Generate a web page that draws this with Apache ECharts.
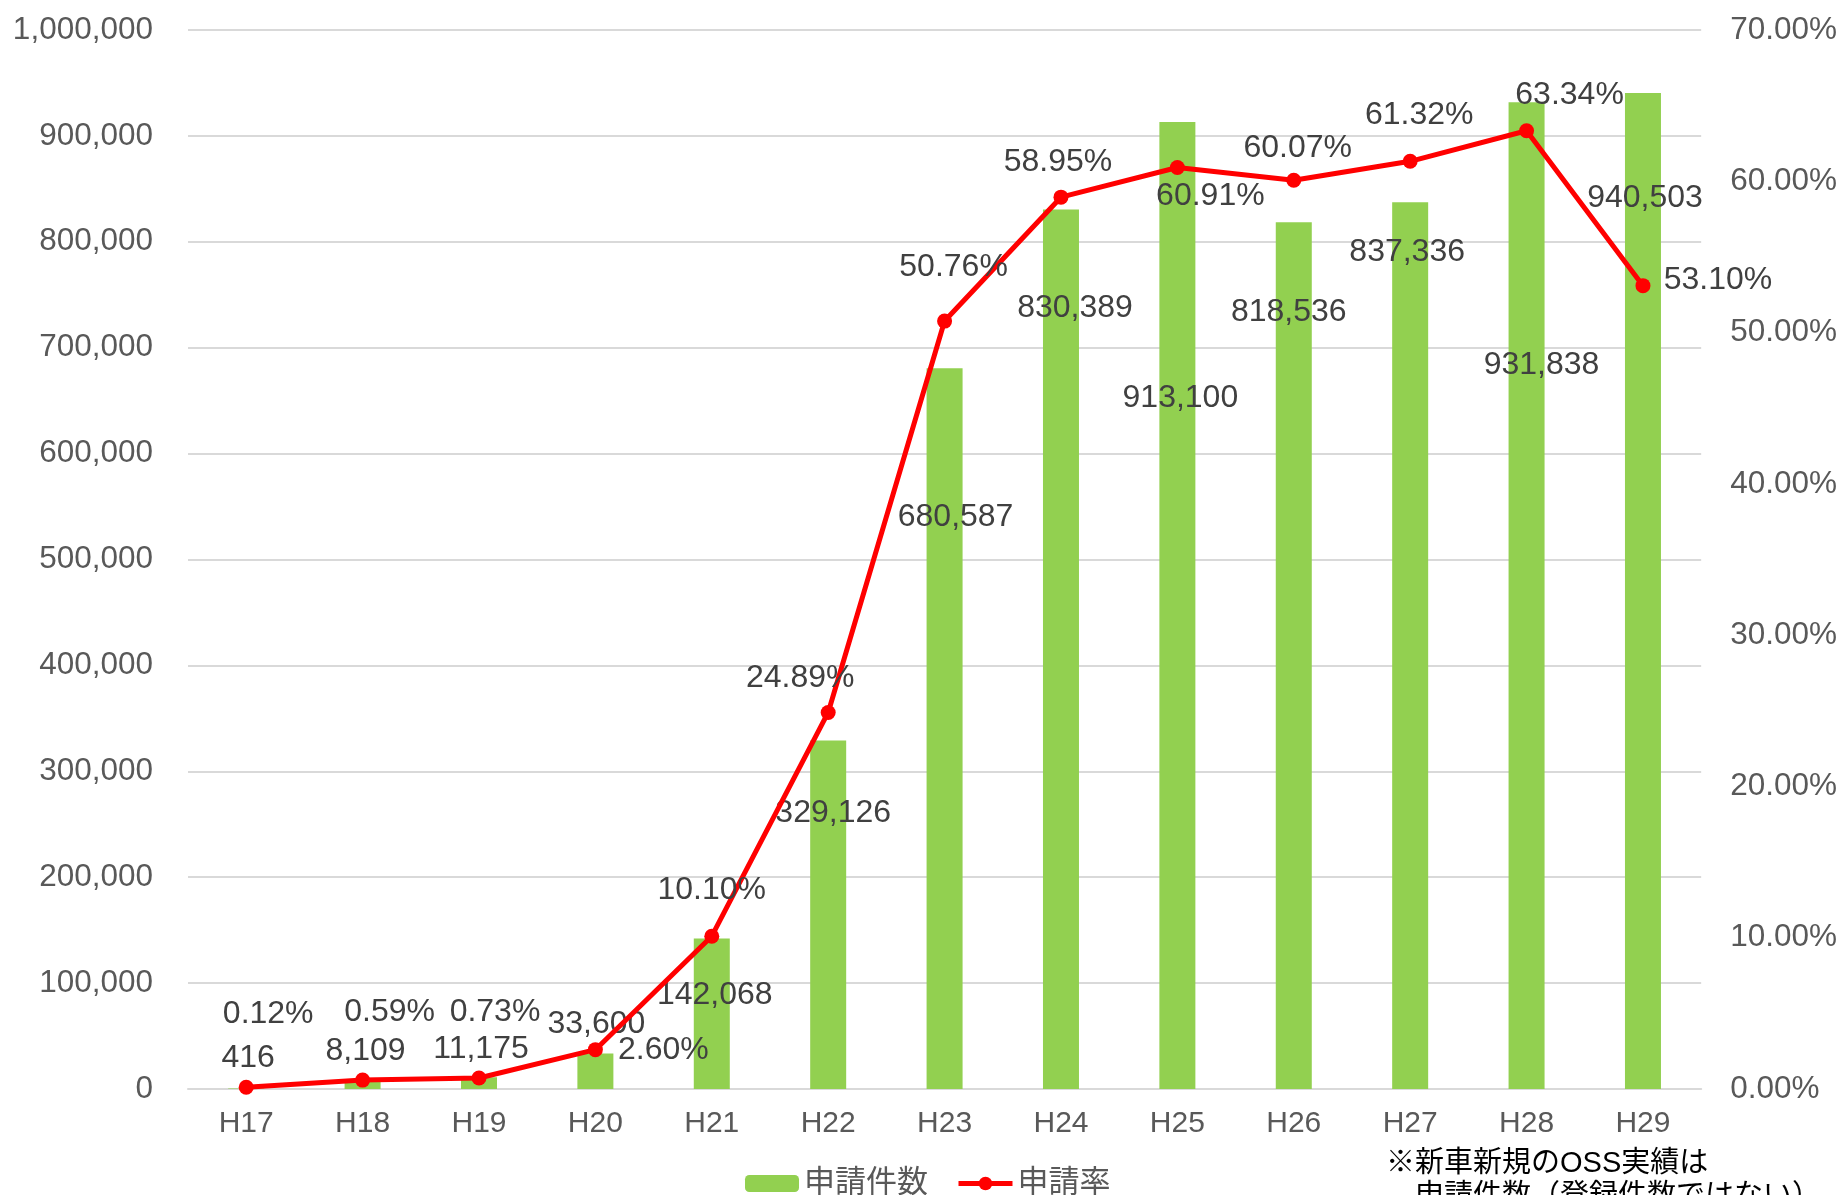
<!DOCTYPE html>
<html><head><meta charset="utf-8">
<script src="https://cdn.jsdelivr.net/npm/echarts@6/dist/echarts.min.js"></script>
<style>html,body{margin:0;padding:0;background:#fff}#c{width:1840px;height:1195px}</style>
</head><body><div id="c"></div>
<script>
const categories = ['H17','H18','H19','H20','H21','H22','H23','H24','H25','H26','H27','H28','H29'];
const applications = [416, 8109, 11175, 33600, 142068, 329126, 680587, 830389, 913100, 818536, 837336, 931838, 940503];
const rates = [0.12, 0.59, 0.73, 2.60, 10.10, 24.89, 50.76, 58.95, 60.91, 60.07, 61.32, 63.34, 53.10];
const seriesNames = ['申請件数', '申請率'];
const noteLines = ['※新車新規のOSS実績は', '　申請件数（登録件数ではない）'];

// label placement (style only), [dx, dy] from the mark
const barLabelOffsets = [[2,-30],[3,-29],[2,-28],[1,-29],[3,57],[5,73],[11,149],[14,99],[3,276],[-5,90],[-3,50],[15,263],[2,105]];
const lineLabelOffsets = [[22,-73],[27,-68],[16,-66],[68,1],[0,-46],[-28,-34],[9,-54],[-3,-35],[33,29],[4,-32],[9,-46],[43,-36],[75,-6]];

const FONT = '"Liberation Sans", Arial, "Noto Sans CJK JP", sans-serif';
const fmtInt = v => v.toLocaleString('en-US');

const chart = echarts.init(document.getElementById('c'));
chart.setOption({
  animation: false,
  textStyle: { fontFamily: FONT },
  grid: { left: 188, right: 138, top: 30, bottom: 106 },
  legend: {
    left: 740, top: 1163,
    itemWidth: 54, itemHeight: 17, itemGap: 28,
    lineStyle: { width: 5 },
    textStyle: { fontSize: 31, color: '#595959', fontFamily: FONT },
    data: seriesNames
  },
  xAxis: {
    type: 'category', data: categories,
    axisLine: { lineStyle: { color: '#d9d9d9', width: 2 } },
    axisTick: { show: false },
    axisLabel: { fontSize: 30, color: '#595959', margin: 20 }
  },
  yAxis: [
    { type: 'value', min: 0, max: 1000000, interval: 100000,
      axisLabel: { fontSize: 31.5, color: '#595959', margin: 35, formatter: v => fmtInt(v) },
      splitLine: { lineStyle: { color: '#d9d9d9', width: 2 } },
      axisLine: { show: false }, axisTick: { show: false } },
    { type: 'value', min: 0, max: 70, interval: 10,
      axisLabel: { fontSize: 31.5, color: '#595959', margin: 29, formatter: v => v.toFixed(2) + '%' },
      splitLine: { show: false }, axisLine: { show: false }, axisTick: { show: false } }
  ],
  series: [
    { name: seriesNames[0], type: 'bar', yAxisIndex: 0, barWidth: 36,
      itemStyle: { color: '#92D050' },
      data: applications.map((v, i) => ({ value: v, label: { offset: barLabelOffsets[i] } })),
      label: { show: true, position: 'top', distance: 0, verticalAlign: 'middle', align: 'center',
        fontSize: 32, color: '#404040', formatter: p => fmtInt(p.value) },
      z: 2 },
    { name: seriesNames[1], type: 'line', yAxisIndex: 1,
      lineStyle: { color: '#FF0000', width: 5 },
      itemStyle: { color: '#FF0000' },
      symbol: 'circle', symbolSize: 15,
      data: rates.map((v, i) => ({ value: v, label: { offset: lineLabelOffsets[i] } })),
      label: { show: true, position: 'inside', fontSize: 32, color: '#404040',
        formatter: p => p.value.toFixed(2) + '%' },
      z: 3 }
  ],
  graphic: noteLines.map((t, i) => ({
    type: 'text', left: 1386, top: 1149 + i * 33,
    style: { text: t, fontSize: 29, fill: '#000', fontFamily: FONT }
  }))
});
</script></body></html>
